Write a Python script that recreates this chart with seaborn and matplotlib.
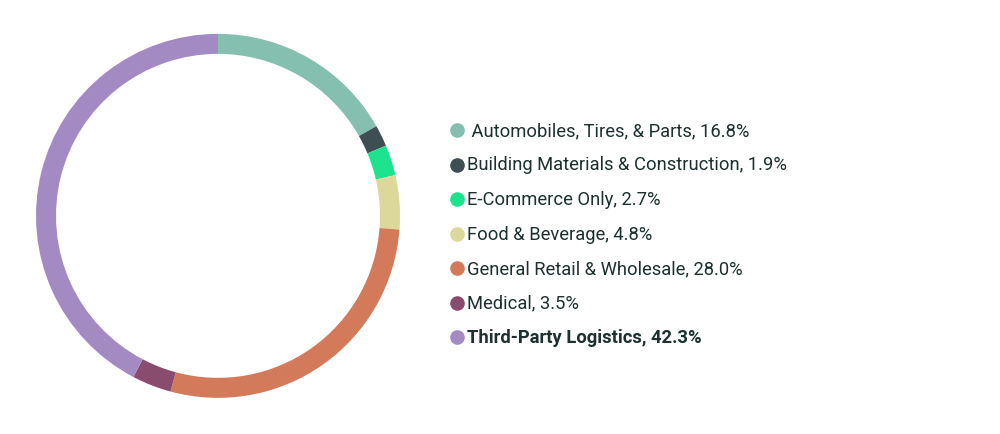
import matplotlib
matplotlib.use("Agg")
import matplotlib.pyplot as plt
import seaborn as sns

categories = ["Automobiles, Tires, & Parts", "Building Materials & Construction",
              "E-Commerce Only", "Food & Beverage", "General Retail & Wholesale",
              "Medical", "Third-Party Logistics"]
shares = [16.8, 1.9, 2.7, 4.8, 28.0, 3.5, 42.3]
colors = ["#85bfaf", "#3d4f52", "#1de38f", "#dcd89b", "#d27a5a", "#8a4c6e", "#a48ac2"]

sns.set_theme(style="white")
plt.rcParams["font.family"] = ["Roboto", "DejaVu Sans"]

fig = plt.figure(figsize=(10, 4.35), dpi=100)
ax = fig.add_axes([0.036, 0.083, 0.364, 0.837])
ax.pie(shares, colors=colors, startangle=90, counterclock=False, radius=1,
       wedgeprops=dict(width=0.11, edgecolor="white", linewidth=0))
ax.set_xlim(-1, 1)
ax.set_ylim(-1, 1)
ax.set_aspect("equal")
ax.axis("off")

y0 = 1 - 131 / 435
step = 34.5 / 435
for i, (cat, val, col) in enumerate(zip(categories, shares, colors)):
    y = y0 - i * step
    fig.lines.append(plt.Line2D([0.457], [y], marker="o", markersize=9.5, color=col,
                                linestyle="none", transform=fig.transFigure, figure=fig))
    label = (" " if i == 0 else "") + f"{cat}, {val:.1f}%"
    fig.text(0.467, y, label, va="center", ha="left", fontsize=13.2,
             color="#1c3030", fontweight="bold" if i == len(categories) - 1 else "normal")

fig.savefig("out.png", dpi=100)
